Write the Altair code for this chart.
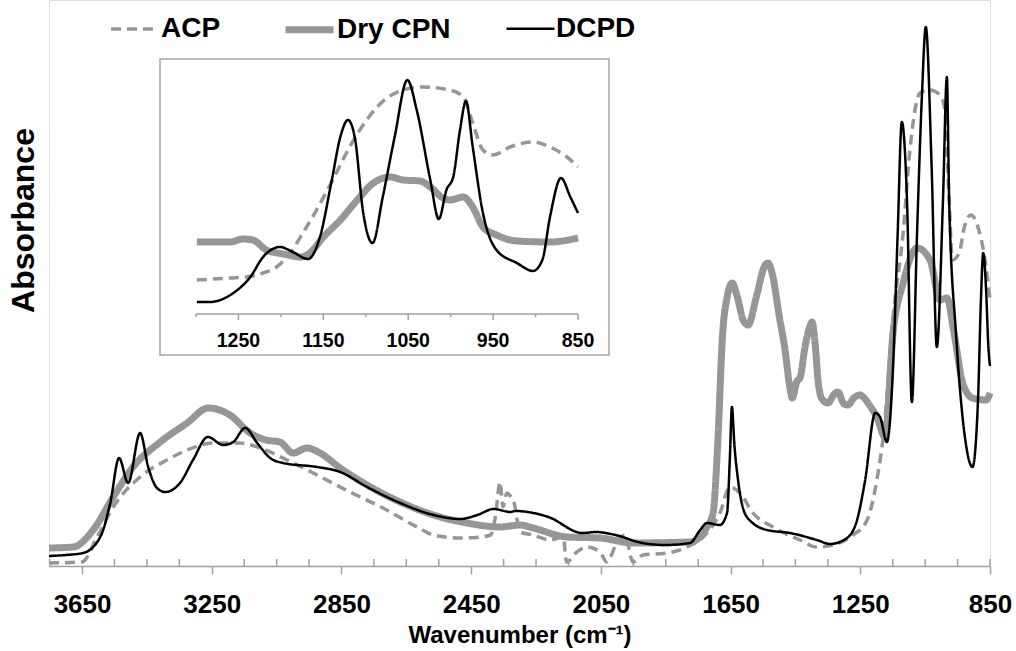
import altair as alt
import pandas as pd

# ---------------- data (arbitrary absorbance units) -------------
SERIES = ["ACP", "Dry CPN", "DCPD"]

# main spectrum
ACP_WN = [3752, 3650, 3604, 3554, 3471, 3388, 3326, 3246, 3163, 3101, 3018, 2925, 2824, 2722, 2617,
          2566, 2483, 2421, 2390, 2375, 2361, 2352, 2340, 2329, 2320, 2299, 2259, 2207, 2166, 2156,
          2124, 2093, 2053, 2032, 2001, 1976, 1951, 1920, 1846, 1784, 1723, 1683, 1652, 1621, 1581,
          1519, 1436, 1384, 1334, 1272, 1229, 1199, 1178, 1149, 1118, 1097, 1066, 1035, 1004, 989,
          976, 966, 945, 929, 909, 882, 862, 850]
ACP_A = [3, 4, 29, 59, 89, 106, 116, 123, 123, 118, 106, 91, 74, 58, 39,
         31, 28, 29, 31, 50, 84, 59, 73, 70, 66, 34, 31, 26, 29, 4,
         14, 19, 14, 4, 23, 31, 4, 11, 13, 19, 33, 53, 79, 73, 53,
         39, 26, 19, 21, 31, 46, 86, 133, 249, 333, 416, 473, 476, 471, 456,
         366, 306, 313, 339, 351, 333, 299, 266]

CPN_WN = [3752, 3677, 3616, 3554, 3493, 3409, 3326, 3261, 3194, 3132, 3082, 3040, 2999, 2957, 2916,
          2854, 2771, 2669, 2566, 2463, 2361, 2299, 2259, 2154, 2053, 1951, 1775, 1723, 1704, 1690,
          1675, 1660, 1645, 1630, 1610, 1596, 1570, 1545, 1535, 1520, 1500, 1482, 1468, 1460, 1445,
          1436, 1420, 1405, 1399, 1390, 1380, 1370, 1350, 1330, 1319, 1300, 1288, 1270, 1251, 1241,
          1220, 1199, 1174, 1149, 1118, 1075, 1035, 1004, 983, 961, 934, 904, 862, 850]
CPN_A = [18, 19, 36, 69, 99, 124, 143, 158, 151, 133, 126, 124, 113, 118, 113,
         98, 81, 64, 51, 43, 39, 41, 38, 29, 28, 23, 24, 39, 53, 120,
         230, 270, 283, 270, 245, 241, 270, 300, 303, 290, 250, 216, 180, 168, 185,
         188, 220, 240, 244, 225, 185, 168, 163, 172, 174, 162, 161, 168, 171, 169,
         160, 149, 129, 233, 283, 318, 306, 266, 268, 233, 183, 168, 166, 173]

DCPD_WN = [3752, 3700, 3647, 3594, 3563, 3536, 3508, 3471, 3446, 3419, 3394, 3348, 3308, 3262, 3215,
           3184, 3147, 3110, 3070, 3030, 2925, 2854, 2771, 2669, 2566, 2483, 2431, 2381, 2329, 2314,
           2212, 2107, 2066, 2005, 1922, 1851, 1775, 1744, 1723, 1683, 1661, 1652, 1646, 1638, 1627,
           1600, 1538, 1467, 1384, 1343, 1291, 1260, 1235, 1204, 1189, 1168, 1149, 1135, 1122, 1106,
           1091, 1075, 1060, 1048, 1030, 1014, 995, 983, 976, 955, 929, 904, 887, 878, 871,
           862, 855, 850]
DCPD_A = [10, 11, 13, 29, 63, 108, 83, 133, 99, 78, 74, 83, 106, 129, 121,
          124, 138, 123, 108, 103, 99, 94, 79, 63, 51, 47, 51, 57, 54, 55,
          49, 33, 34, 31, 23, 21, 23, 36, 43, 41, 53, 110, 159, 120, 86,
          49, 36, 33, 26, 22, 28, 46, 86, 153, 149, 124, 199, 330, 444, 366,
          164, 333, 470, 539, 399, 219, 366, 489, 366, 233, 133, 99, 166, 266, 313,
          276, 219, 200]

# inset (1300-850 cm-1)
IN_ACP_WN = [1299, 1260, 1241, 1221, 1205, 1189, 1174, 1158, 1139, 1119, 1099, 1075, 1056, 1033,
             1001, 985, 974, 962, 950, 930, 903, 883, 863, 850]
IN_ACP_A = [34, 36, 37, 41, 47, 61, 81, 104, 134, 167, 194, 216, 224, 227,
            224, 217, 191, 164, 159, 167, 172, 167, 157, 147]

IN_CPN_WN = [1299, 1260, 1245, 1233, 1217, 1197, 1177, 1166, 1150, 1130, 1110, 1091, 1071, 1056,
             1036, 1024, 1009, 1001, 985, 974, 962, 946, 922, 883, 850]
IN_CPN_A = [72, 72, 75, 74, 64, 60, 57, 61, 77, 94, 114, 131, 137, 134,
            133, 127, 116, 114, 117, 107, 87, 79, 73, 72, 76]

IN_DCPD_WN = [1299, 1284, 1256, 1236, 1221, 1201, 1186, 1168, 1154, 1140, 1130, 1121, 1113, 1103,
              1092, 1080, 1066, 1051, 1040, 1024, 1014, 1005, 997, 989, 982, 974, 962, 946, 922,
              903, 892, 883, 870, 859, 850]
IN_DCPD_A = [12, 12, 21, 37, 57, 67, 62, 55, 77, 134, 177, 194, 177, 101,
             71, 117, 177, 234, 204, 134, 95, 124, 137, 184, 213, 167, 101, 64, 51,
             43, 54, 97, 136, 117, 101]

MAIN_MAJOR_TICKS = [3650, 3250, 2850, 2450, 2050, 1650, 1250, 850]
MAIN_MINOR_TICKS = [3750, 3550, 3450, 3350, 3150, 3050, 2950, 2750, 2650, 2550, 2350, 2250, 2150,
                    1950, 1850, 1750, 1550, 1450, 1350, 1150, 1050, 950, 850]
INSET_DOMAIN = [1300, 850]
INSET_MAJOR_TICKS = [1250, 1150, 1050, 950, 850]
INSET_MINOR_TICKS = [1300, 1200, 1100, 1000, 900]

COLORS = ["#969696", "#969696", "#000000"]
DASHES = [[10, 6], [1, 0], [1, 0]]
WIDTHS = [3.5, 7, 2.5]


def long_table(parts):
    rows = []
    for name, wn, a in parts:
        for w, v in zip(wn, a):
            rows.append({"series": name, "wn": w, "a": v})
    return pd.DataFrame(rows)


main_df = long_table([("ACP", ACP_WN, ACP_A), ("Dry CPN", CPN_WN, CPN_A), ("DCPD", DCPD_WN, DCPD_A)])
inset_df = long_table([("ACP", IN_ACP_WN, IN_ACP_A), ("Dry CPN", IN_CPN_WN, IN_CPN_A),
                       ("DCPD", IN_DCPD_WN, IN_DCPD_A)])

FONT = "Liberation Sans"
GRAY = "#A0A0A0"

legend = alt.Legend(orient="none", legendX=60, legendY=2, direction="horizontal", title=None,
                    labelFont=FONT, labelFontSize=28, labelFontWeight="bold", labelColor="black",
                    symbolType="stroke", symbolSize=2304, columnPadding=50, labelOffset=0, padding=0)

enc_style = dict(
    color=alt.Color("series:N", scale=alt.Scale(domain=SERIES, range=COLORS), legend=legend),
    strokeDash=alt.StrokeDash("series:N", scale=alt.Scale(domain=SERIES, range=DASHES), legend=legend),
    strokeWidth=alt.StrokeWidth("series:N", scale=alt.Scale(type="ordinal", domain=SERIES, range=WIDTHS),
                                legend=legend),
)

# ---------------- main spectrum ----------------
main_x_scale = alt.Scale(domain=[850, 3752], reverse=True, nice=False, zero=False)
main_y_scale = alt.Scale(domain=[0, 566], nice=False, zero=False)
main_x_axis = alt.Axis(values=MAIN_MAJOR_TICKS, format="d", grid=False, labelFlush=False, labelOverlap=False,
                       labelFont=FONT, labelFontSize=26, labelFontWeight="bold", labelColor="black",
                       labelBaseline="alphabetic", labelPadding=38, tickSize=8, tickColor=GRAY, tickWidth=1.5,
                       domainColor=GRAY, domainWidth=1.5, title="Wavenumber (cm⁻¹)", titleFont=FONT,
                       titleFontSize=24, titleFontWeight="bold", titleColor="black",
                       titleBaseline="alphabetic", titleY=76)
main_y_axis = alt.Axis(labels=False, ticks=False, domain=False, grid=False, title="Absorbance",
                       titleFont=FONT, titleFontSize=32, titleFontWeight="bold", titleColor="black",
                       titleAngle=270, titleBaseline="alphabetic", titleX=-16, titleY=220)

main_base = alt.Chart(main_df).mark_line(interpolate="monotone", strokeJoin="round").encode(
    x=alt.X("wn:Q", scale=main_x_scale, axis=main_x_axis),
    y=alt.Y("a:Q", scale=main_y_scale, axis=main_y_axis),
    **enc_style,
)
main_lines = [main_base.transform_filter(alt.datum.series == s) for s in ["Dry CPN", "ACP", "DCPD"]]

main_minor = alt.Chart(pd.DataFrame({"wn": MAIN_MINOR_TICKS})).mark_rule(color=GRAY, strokeWidth=1.5).encode(
    x=alt.X("wn:Q", scale=main_x_scale, axis=main_x_axis),
    y=alt.value(559), y2=alt.value(566),
)
main_group = alt.layer(*main_lines, main_minor)

# ---------------- inset ----------------
inset_x_scale = alt.Scale(domain=[850, 1300], reverse=True, nice=False, zero=False, range=[147, 529])
inset_y_scale = alt.Scale(domain=[0, 250], nice=False, zero=False, range=[314, 64])

inset_box = alt.Chart(pd.DataFrame({"k": [0]})).mark_rect(fill="white", stroke="#A6A6A6", strokeWidth=1.5).encode(
    x=alt.value(111), x2=alt.value(560), y=alt.value(59), y2=alt.value(355)
)
inset_base = alt.Chart(inset_df).mark_line(interpolate="monotone", strokeJoin="round").encode(
    x=alt.X("wn:Q", scale=inset_x_scale, axis=None),
    y=alt.Y("a:Q", scale=inset_y_scale, axis=None),
    **enc_style,
)
inset_lines = [inset_base.transform_filter(alt.datum.series == s) for s in ["Dry CPN", "ACP", "DCPD"]]

inset_domain = alt.Chart(pd.DataFrame({"x0": [INSET_DOMAIN[0]], "x1": [INSET_DOMAIN[1]]})).mark_rule(
    color=GRAY, strokeWidth=1.5).encode(
    x=alt.X("x0:Q", scale=inset_x_scale, axis=None), x2="x1:Q", y=alt.value(314)
)
inset_major = alt.Chart(pd.DataFrame({"wn": INSET_MAJOR_TICKS})).mark_rule(color=GRAY, strokeWidth=1.5).encode(
    x=alt.X("wn:Q", scale=inset_x_scale, axis=None), y=alt.value(314), y2=alt.value(320)
)
inset_minor = alt.Chart(pd.DataFrame({"wn": INSET_MINOR_TICKS})).mark_rule(color=GRAY, strokeWidth=1.5).encode(
    x=alt.X("wn:Q", scale=inset_x_scale, axis=None), y=alt.value(314), y2=alt.value(317)
)
inset_labels = alt.Chart(pd.DataFrame({"wn": INSET_MAJOR_TICKS})).mark_text(
    font=FONT, fontSize=19.5, fontWeight="bold", color="black", baseline="alphabetic", align="center").encode(
    x=alt.X("wn:Q", scale=inset_x_scale, axis=None), y=alt.value(347), text=alt.Text("wn:Q", format="d")
)
inset_group = alt.layer(inset_box, *inset_lines, inset_domain, inset_major, inset_minor, inset_labels)

chart = alt.layer(main_group, inset_group).resolve_scale(
    x="independent", y="independent"
).properties(
    width=941, height=566,
    padding={"left": 49, "top": 0, "right": 26, "bottom": 85},
    autosize="none",
).configure_view(stroke=None).configure(background="white")

chart.save("out.html", embed_options={"renderer": "svg", "actions": False})
